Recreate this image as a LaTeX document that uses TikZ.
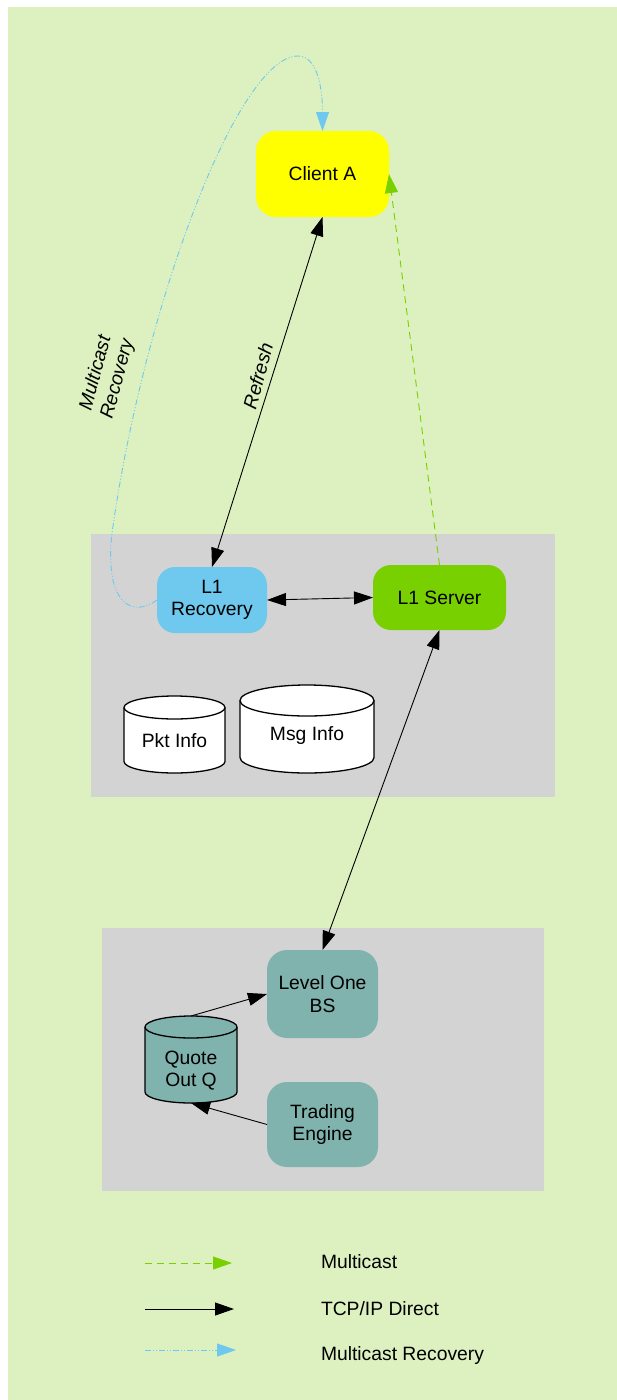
\documentclass[tikz,border=0pt]{standalone}
\usepackage{fontspec}
\setmainfont{Liberation Sans}
\usetikzlibrary{arrows.meta,calc}
\definecolor{bggreen}{RGB}{221,241,192}
\definecolor{clgray}{RGB}{211,211,211}
\definecolor{skyb}{RGB}{111,200,237}
\definecolor{lgreen}{RGB}{120,208,0}
\definecolor{tealbox}{RGB}{128,179,174}
\definecolor{pureyellow}{RGB}{255,255,0}
\newcommand\drawcylinder[4]{%
  \draw[cylline,fill=#2] ($(#1.north west)+(0,-#4)$) -- ($(#1.south west)+(0,#4)$)
    arc[start angle=180,end angle=360,x radius=#3pt,y radius=#4pt]
    -- ($(#1.north east)+(0,-#4)$)
    arc[start angle=0,end angle=180,x radius=#3pt,y radius=#4pt] -- cycle;
  \draw[cylline] ($(#1.north west)+(0,-#4)$)
    arc[start angle=180,end angle=360,x radius=#3pt,y radius=#4pt];
}
\tikzset{
  every node/.style={font=\fontsize{19.3}{22.7}\selectfont, inner sep=0pt, outer sep=0pt},
  box/.style={rounded corners=#1, align=center},
  box/.default=19pt,
  cylbox/.style={inner sep=0pt, outer sep=0pt},
  cylline/.style={line width=1.3pt, draw=black},
  tcp/.style={line width=0.9pt, draw=black, >={Triangle[length=19pt,width=13pt]}},
  mcast/.style={line width=0.9pt, draw=lgreen, dash pattern=on 7pt off 5pt,
     -{Triangle[length=19pt,width=13pt]}},
  mrec/.style={line width=0.9pt, draw=skyb, dash pattern=on 6pt off 2pt on 1pt off 2pt on 1pt off 2pt,
     -{Triangle[length=19pt,width=13pt]}},
  elabel/.style={font=\fontsize{19.3}{22.7}\selectfont\itshape, rotate=75, align=center},
}
\begin{document}
\begin{tikzpicture}[x=1pt,y=1pt]
\useasboundingbox (0,0) rectangle (617,-1400);
\fill[bggreen] (8,-7) rectangle (617,-1400);
% clusters
\fill[clgray] (91,-534) rectangle (555,-797);
\fill[clgray] (102,-928) rectangle (544,-1191);
% nodes
\node[box=20pt, fill=pureyellow, minimum width=133pt, minimum height=86pt] (client) at (322.5,-174) {Client A};
\node[box=18pt, fill=skyb, minimum width=110pt, minimum height=66pt] (rec) at (212,-600) {L1\\Recovery};
\node[box=18pt, fill=lgreen, minimum width=133pt, minimum height=65pt] (server) at (439.5,-597.5) {L1 Server};
\node[box=20pt, fill=tealbox, minimum width=111pt, minimum height=88pt] (lob) at (322.5,-994) {Level One\\BS};
\node[box=20pt, fill=tealbox, minimum width=111pt, minimum height=85pt] (te) at (322.5,-1124.5) {Trading\\Engine};
% cylinders
\node[cylbox, minimum width=101pt, minimum height=77pt] (pkt) at (174.5,-734.5) {};
\drawcylinder{pkt}{white}{50.5}{11.5}
\node (pkttext) at (174.5,-741) {Pkt Info};
\node[cylbox, minimum width=134pt, minimum height=88pt] (msg) at (307,-729) {};
\drawcylinder{msg}{white}{67}{15.5}
\node (msgtext) at (307,-736) {Msg Info};
\node[cylbox, minimum width=92pt, minimum height=87pt] (qoq) at (191,-1059.5) {};
\drawcylinder{qoq}{tealbox}{46}{11}
\node[align=center] (qoqtext) at (191,-1070.5) {Quote\\Out Q};
% edges
\draw[tcp,<->] (client.south) -- (rec.north);
\draw[tcp,<->] (rec.east) -- (server.west);
\draw[mcast] (server.north) -- (client.east);
\draw[tcp,<->] (lob.north) -- (server.south);
\draw[tcp,->] (qoq.north) -- (lob.west);
\draw[tcp,->] (te.west) -- (qoq.south);
\draw[mrec] (rec.west) .. controls (133,-618) and (104,-605) .. (112,-533)
   .. controls (144,-305) and (238,-56) .. (298,-56)
   .. controls (318,-56) and (322.5,-90) .. (client.north);
% edge labels
\node[elabel] (reflab) at (258,-376) {Refresh};
\node[elabel] (mrlab) at (107,-376) {Multicast\\Recovery};
% legend
\coordinate (l1a) at (145,-1263); \coordinate (l1b) at (232,-1263);
\coordinate (l2a) at (145,-1309); \coordinate (l2b) at (234,-1309);
\coordinate (l3a) at (145,-1350); \coordinate (l3b) at (236,-1350);
\draw[mcast] (l1a) -- (l1b);
\draw[tcp,->] (l2a) -- (l2b);
\draw[mrec] (l3a) -- (l3b);
\node[anchor=west] (lg1) at (321,-1262) {Multicast};
\node[anchor=west] (lg2) at (321,-1309) {TCP/IP Direct};
\node[anchor=west] (lg3) at (321,-1355) {Multicast Recovery};
\end{tikzpicture}
\end{document}
